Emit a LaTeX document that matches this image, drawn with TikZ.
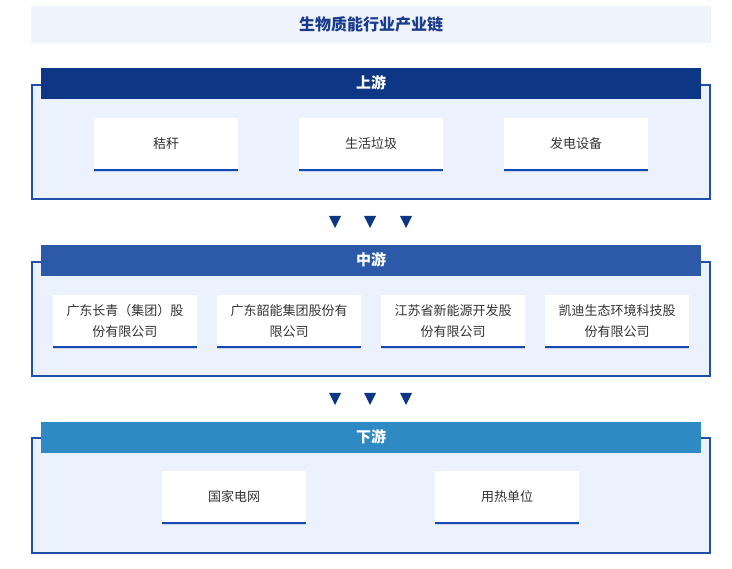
\documentclass[tikz,border=0pt]{standalone}
\usepackage{fontspec}
\setmainfont{Noto Sans CJK SC}
\usetikzlibrary{shadows}
\definecolor{titlefill}{HTML}{EEF3FC}
\definecolor{titletext}{HTML}{1A3A8C}
\definecolor{framefill}{HTML}{EBF2FD}
\definecolor{framedraw}{HTML}{1F4FA8}
\definecolor{upfill}{HTML}{0D3784}
\definecolor{midfill}{HTML}{2D5AA8}
\definecolor{downfill}{HTML}{2F8AC4}
\definecolor{cardline}{HTML}{1447B0}
\definecolor{cardtext}{HTML}{333333}
\begin{document}
\begin{tikzpicture}[x=1pt,y=-1pt,
    frame/.style={draw=framedraw, line width=1.5pt, fill=framefill},
    header/.style={font=\fontsize{15}{17}\selectfont\bfseries, text=white},
    card/.style={fill=white, minimum width=144pt, minimum height=52pt, align=center,
      font=\fontsize{13}{21}\selectfont, text=cardtext,
      drop shadow={shadow xshift=0pt, shadow yshift=-2.5pt, opacity=0.35, fill=framedraw!50}},
]
\useasboundingbox (0,0) rectangle (732,569);

% Title
\fill[titlefill] (31,6) rectangle (711,43);
\node[font=\fontsize{16}{18}\selectfont\bfseries, text=titletext] (title) at (371,24) {生物质能行业产业链};

% Upstream
\draw[frame] (32,85) rectangle (710,199);
\fill[upfill] (41,68) rectangle (701,99);
\node[header] (up) at (371,83) {上游};
\foreach \x/\t [count=\i] in {166/秸秆, 371/生活垃圾, 576/发电设备} {
  \node[card] (u\i) at (\x,144) {\t};
  \draw[cardline, line width=2pt] (u\i.south west) -- (u\i.south east);
}

% Arrows
\foreach \x in {335,370,406} {
  \fill[upfill] (\x-6,216) -- (\x+6,216) -- (\x,228) -- cycle;
  \fill[upfill] (\x-6,393) -- (\x+6,393) -- (\x,405) -- cycle;
}

% Midstream
\draw[frame] (32,262) rectangle (710,376);
\fill[midfill] (41,245) rectangle (701,276);
\node[header] (mid) at (371,260) {中游};
\foreach \x/\t [count=\i] in {125/{广东长青（集团）股\\份有限公司}, 289/{广东韶能集团股份有\\限公司}, 453/{江苏省新能源开发股\\份有限公司}, 617/{凯迪生态环境科技股\\份有限公司}} {
  \node[card] (m\i) at (\x,321) {\t};
  \draw[cardline, line width=2pt] (m\i.south west) -- (m\i.south east);
}

% Downstream
\draw[frame] (32,438) rectangle (710,553);
\fill[downfill] (41,422) rectangle (701,453);
\node[header] (down) at (371,437) {下游};
\foreach \x/\t [count=\i] in {234/国家电网, 507/用热单位} {
  \node[card] (d\i) at (\x,497) {\t};
  \draw[cardline, line width=2pt] (d\i.south west) -- (d\i.south east);
}
\end{tikzpicture}
\end{document}
